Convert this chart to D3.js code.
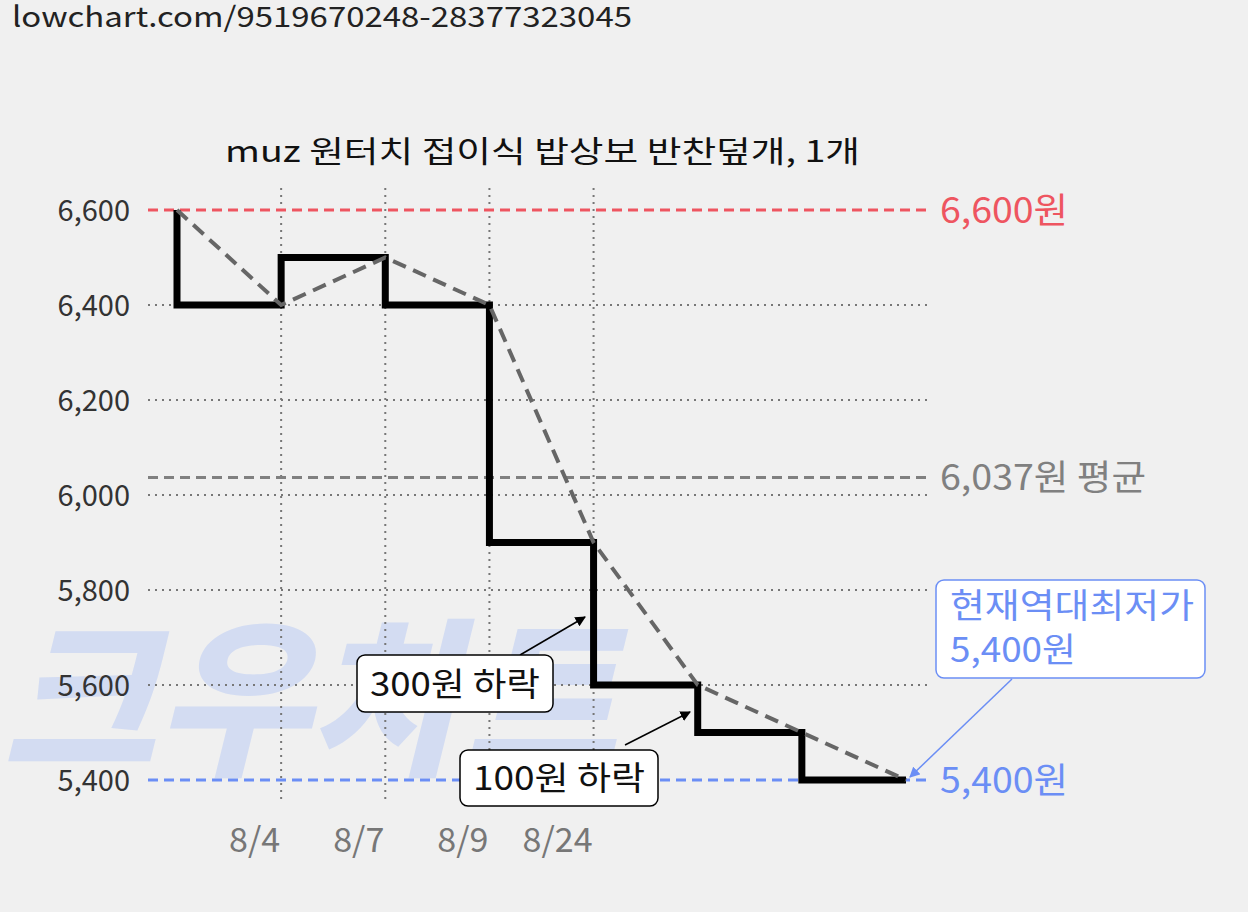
<!DOCTYPE html>
<html><head><meta charset="utf-8">
<script src="https://cdn.jsdelivr.net/npm/d3@7"></script>
<style>body{margin:0;background:#f0f0f0;}svg{display:block;font-family:"Noto Sans CJK KR","Noto Sans",sans-serif;}</style>
</head><body>
<svg id="c" width="1248" height="912"></svg>
<script>
const values=[6600,6400,6500,6400,5900,5600,5500,5400];
const xLabels=["","8/4","8/7","8/9","8/24","","",""];
const yTicks=[5400,5600,5800,6000,6200,6400,6600];
const gridVals=[5600,5800,6000,6200,6400];
const avg=6037, maxV=6600, minV=5400;

const svg=d3.select("#c");
const x=d3.scaleLinear().domain([0,7]).range([177,906]);
const y=d3.scaleLinear().domain([5400,6600]).range([780,210]);

svg.append("text").attr("x",12).attr("y",27).attr("font-size",28).attr("fill","#222").attr("textLength",620).attr("lengthAdjust","spacingAndGlyphs").text("lowchart.com/9519670248-28377323045");
// watermark
svg.append("text").attr("x",2).attr("y",762).attr("font-size",170).attr("font-weight",900).attr("font-style","italic")
 .attr("fill","#d3dcf2").attr("textLength",615).attr("lengthAdjust","spacingAndGlyphs").text("크우차트");

svg.append("text").attr("x",225).attr("y",162).attr("font-size",30).attr("fill","#111").attr("textLength",635).attr("lengthAdjust","spacingAndGlyphs").text("muz 원터치 접이식 밥상보 반찬덮개, 1개");

gridVals.forEach(v=>svg.append("line").attr("x1",148).attr("x2",932).attr("y1",y(v)).attr("y2",y(v)).attr("stroke","#777").attr("stroke-width",2).attr("stroke-dasharray","2,5"));
xLabels.forEach((l,i)=>{ if(!l) return;
 svg.append("line").attr("x1",x(i)).attr("x2",x(i)).attr("y1",188).attr("y2",800).attr("stroke","#777").attr("stroke-width",2).attr("stroke-dasharray","2,5");
 svg.append("text").attr("x",x(i)-1).attr("y",852).attr("text-anchor","end").attr("font-size",34).attr("fill","#777").text(l);
});
yTicks.forEach(v=>svg.append("text").attr("x",130).attr("y",y(v)+11).attr("text-anchor","end").attr("font-size",29).attr("fill","#333").text(d3.format(",")(v)));

function hline(v,col,label,w){
 svg.append("line").attr("x1",148).attr("x2",932).attr("y1",y(v)).attr("y2",y(v)).attr("stroke",col).attr("stroke-width",3).attr("stroke-dasharray","10,6");
 svg.append("text").attr("x",940).attr("y",y(v)+13).attr("font-size",35).attr("fill",col).attr("textLength",w).attr("lengthAdjust","spacingAndGlyphs").text(label);
}
hline(maxV,"#ee5560","6,600원",128);
hline(avg,"#808080","6,037원 평균",206);
hline(minV,"#6b8ef5","5,400원",128);

const pts=values.map((v,i)=>[x(i),y(v)]);
svg.append("path").attr("d",d3.line().curve(d3.curveStepBefore)(pts)).attr("fill","none").attr("stroke","#000").attr("stroke-width",7);
svg.append("path").attr("d",d3.line()(pts)).attr("fill","none").attr("stroke","#666").attr("stroke-width",4).attr("stroke-dasharray","14,8");

svg.append("defs").html('<marker id="ab" viewBox="0 0 10 10" refX="9" refY="5" markerWidth="7" markerHeight="7" orient="auto"><path d="M0,0L10,5L0,10z" fill="#000"/></marker><marker id="bb" viewBox="0 0 10 10" refX="9" refY="5" markerWidth="7" markerHeight="7" orient="auto"><path d="M0,0L10,5L0,10z" fill="#6b8ef5"/></marker>');

function note(bx,by,w,h,txt,ax1,ay1,ax2,ay2){
 svg.append("line").attr("x1",ax1).attr("y1",ay1).attr("x2",ax2).attr("y2",ay2).attr("stroke","#000").attr("stroke-width",1.5).attr("marker-end","url(#ab)");
 svg.append("rect").attr("x",bx).attr("y",by).attr("width",w).attr("height",h).attr("rx",8).attr("fill","#fff").attr("stroke","#000").attr("stroke-width",1.5);
 svg.append("text").attr("x",bx+w/2).attr("y",by+h/2+12).attr("text-anchor","middle").attr("font-size",33).attr("fill","#111").attr("textLength",w-26).attr("lengthAdjust","spacingAndGlyphs").text(txt);
}
note(357,655,196,57,"300원 하락",520,655,585,617);
note(460,750,198,56,"100원 하락",625,745,690,712);

svg.append("line").attr("x1",1012).attr("y1",679).attr("x2",910).attr("y2",777).attr("stroke","#6b8ef5").attr("stroke-width",1.5).attr("marker-end","url(#bb)");
svg.append("rect").attr("x",936).attr("y",580).attr("width",269).attr("height",98).attr("rx",8).attr("fill","#fff").attr("stroke","#6b8ef5").attr("stroke-width",1.5);
svg.append("text").attr("x",950).attr("y",618).attr("font-size",34).attr("fill","#6b8ef5").attr("textLength",244).attr("lengthAdjust","spacingAndGlyphs").text("현재역대최저가");
svg.append("text").attr("x",950).attr("y",662).attr("font-size",34).attr("fill","#6b8ef5").attr("textLength",126).attr("lengthAdjust","spacingAndGlyphs").text("5,400원");
</script></body></html>
